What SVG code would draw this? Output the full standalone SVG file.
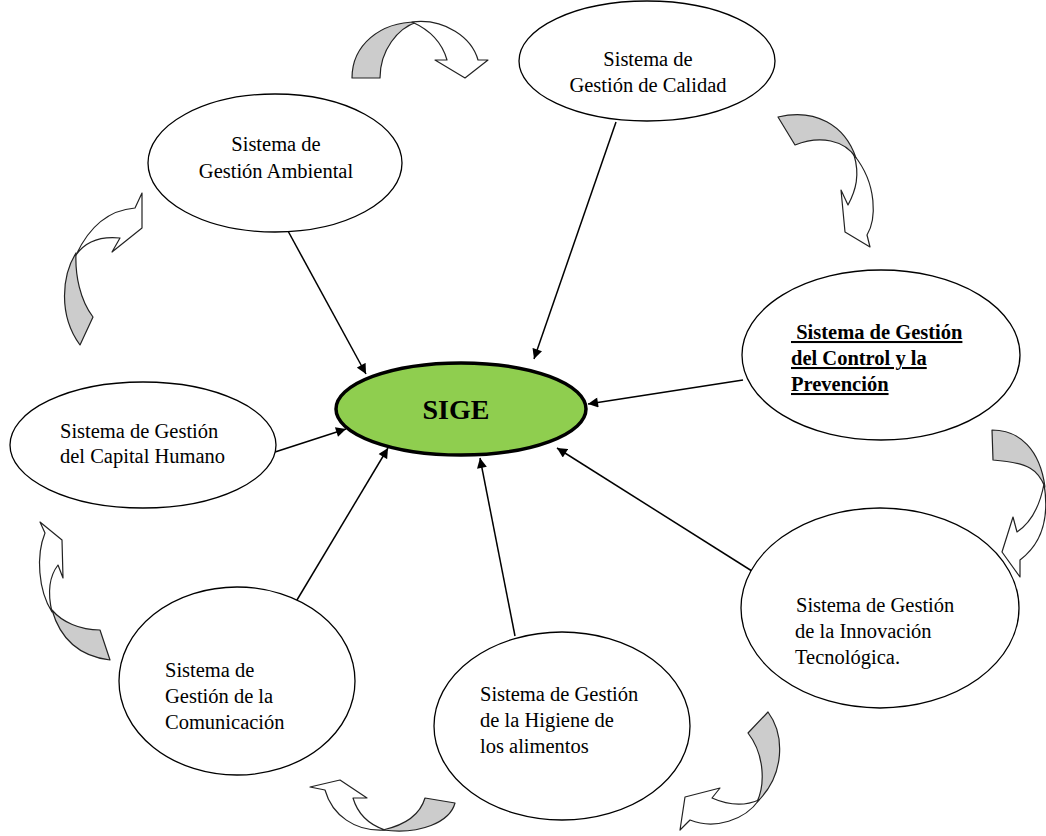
<svg xmlns="http://www.w3.org/2000/svg" width="1046" height="836" viewBox="0 0 1046 836">
<style>
.n{fill:#fff;stroke:#000;stroke-width:1.3}
.t{font-family:"Liberation Serif","Times New Roman",serif;font-size:20.5px;fill:#000}
.b{font-weight:bold;text-decoration:underline}
.c{stroke:#000;stroke-width:1.5;fill:none;marker-end:url(#ah)}
.g{fill:#cccccc;stroke:#222;stroke-width:1.2;stroke-linejoin:round}
.w{fill:#fff;stroke:#222;stroke-width:1.2;stroke-linejoin:round}
</style>
<defs>
<marker id="ah" viewBox="0 0 10 10" refX="10" refY="5" markerWidth="11" markerHeight="10" markerUnits="userSpaceOnUse" orient="auto">
<path d="M0,0 L10,5 L0,10 Z" fill="#000"/>
</marker>
</defs>
<rect width="1046" height="836" fill="#fff"/>

<g id="curved-arrows">
<path class="g" d="M352,78 C352,45 380,22 417,22 C398,28 380,50 380,78 Z"/>
<path class="w" d="M412,22 C445,18 472,38 478,60 L488,60 L465,78 L435,60 L447,60 C442,42 430,30 412,22 Z"/>
<path class="g" d="M778,117 C815,108 845,125 856,158 C845,140 820,135 795,145 Z"/>
<path class="w" d="M854,155 C878,185 876,220 867,235 L870,247 L845,232 L841,190 L848,205 C856,190 860,175 854,155 Z"/>
<path class="g" d="M80,345 C58,315 62,275 76,253 C75,275 80,300 93,317 Z"/>
<path class="w" d="M76,255 C90,225 110,210 135,208 L142,193 L142,228 L112,252 L120,238 C100,236 85,242 76,255 Z"/>
<path class="g" d="M992,430 C1020,430 1040,450 1045,487 C1038,470 1030,463 993,460 Z"/>
<path class="w" d="M1044,484 C1050,520 1040,545 1020,560 L1020,577 L1002,552 L1013,517 L1017,532 C1032,522 1040,505 1044,484 Z"/>
<path class="g" d="M110,660 C85,657 62,645 52,610 C62,622 80,630 100,630 Z"/>
<path class="w" d="M52,612 C38,590 36,555 45,533 L40,522 L62,540 L63,578 L58,565 C48,578 48,595 52,612 Z"/>
<path class="g" d="M425,798 L455,803 C450,822 420,835 383,830 C405,825 420,815 425,798 Z"/>
<path class="w" d="M385,830 C355,832 332,815 325,790 L310,787 L340,780 L367,798 L353,798 C358,815 370,825 385,830 Z"/>
<path class="g" d="M768,712 C785,735 785,775 757,802 C765,785 765,755 748,733 Z"/>
<path class="w" d="M759,800 C745,820 715,830 690,820 L680,830 L685,797 L720,788 L712,798 C730,806 745,806 759,800 Z"/>
</g>

<g id="connectors">
<line class="c" x1="288" y1="231" x2="366" y2="374"/>
<line class="c" x1="616" y1="122" x2="534" y2="359"/>
<line class="c" x1="743" y1="380" x2="588" y2="404"/>
<line class="c" x1="275" y1="452" x2="346" y2="429"/>
<line class="c" x1="288" y1="615" x2="388" y2="448"/>
<line class="c" x1="515" y1="636" x2="480" y2="458"/>
<line class="c" x1="763" y1="578" x2="557" y2="448"/>
</g>

<g id="sige">
<ellipse cx="461" cy="409" rx="125" ry="46" fill="#8fce4f" stroke="#000" stroke-width="3.5"/>
<text x="456" y="419" text-anchor="middle" font-family="'Liberation Serif','Times New Roman',serif" font-weight="bold" font-size="28">SIGE</text>
</g>

<g id="calidad">
<ellipse class="n" cx="647" cy="61" rx="128" ry="60"/>
<text class="t" text-anchor="middle"><tspan x="648" y="66">Sistema de</tspan><tspan x="648" y="92">Gestión de Calidad</tspan></text>
</g>

<g id="ambiental">
<ellipse class="n" cx="275" cy="163" rx="127" ry="69"/>
<text class="t" text-anchor="middle"><tspan x="276" y="151">Sistema de</tspan><tspan x="276" y="178">Gestión Ambiental</tspan></text>
</g>

<g id="control">
<ellipse class="n" cx="881" cy="355" rx="139" ry="85"/>
<text class="t b" xml:space="preserve"><tspan x="791" y="339"> Sistema de Gestión</tspan><tspan x="791" y="365">del Control y la</tspan><tspan x="791" y="391">Prevención</tspan></text>
</g>

<g id="capital">
<ellipse class="n" cx="143" cy="445" rx="133" ry="63"/>
<text class="t"><tspan x="60" y="438">Sistema de Gestión</tspan><tspan x="60" y="463">del Capital Humano</tspan></text>
</g>

<g id="innovacion">
<ellipse class="n" cx="880" cy="608" rx="139" ry="100"/>
<text class="t"><tspan x="796" y="612">Sistema de Gestión</tspan><tspan x="795" y="638">de la Innovación</tspan><tspan x="795" y="664">Tecnológica.</tspan></text>
</g>

<g id="higiene">
<ellipse class="n" cx="562" cy="726" rx="128" ry="94"/>
<text class="t"><tspan x="480" y="701">Sistema de Gestión</tspan><tspan x="480" y="727">de la Higiene de</tspan><tspan x="480" y="753">los alimentos</tspan></text>
</g>

<g id="comunicacion">
<ellipse class="n" cx="237" cy="681" rx="118" ry="94"/>
<text class="t"><tspan x="165" y="677">Sistema de</tspan><tspan x="165" y="703">Gestión de la</tspan><tspan x="165" y="729">Comunicación</tspan></text>
</g>
</svg>
